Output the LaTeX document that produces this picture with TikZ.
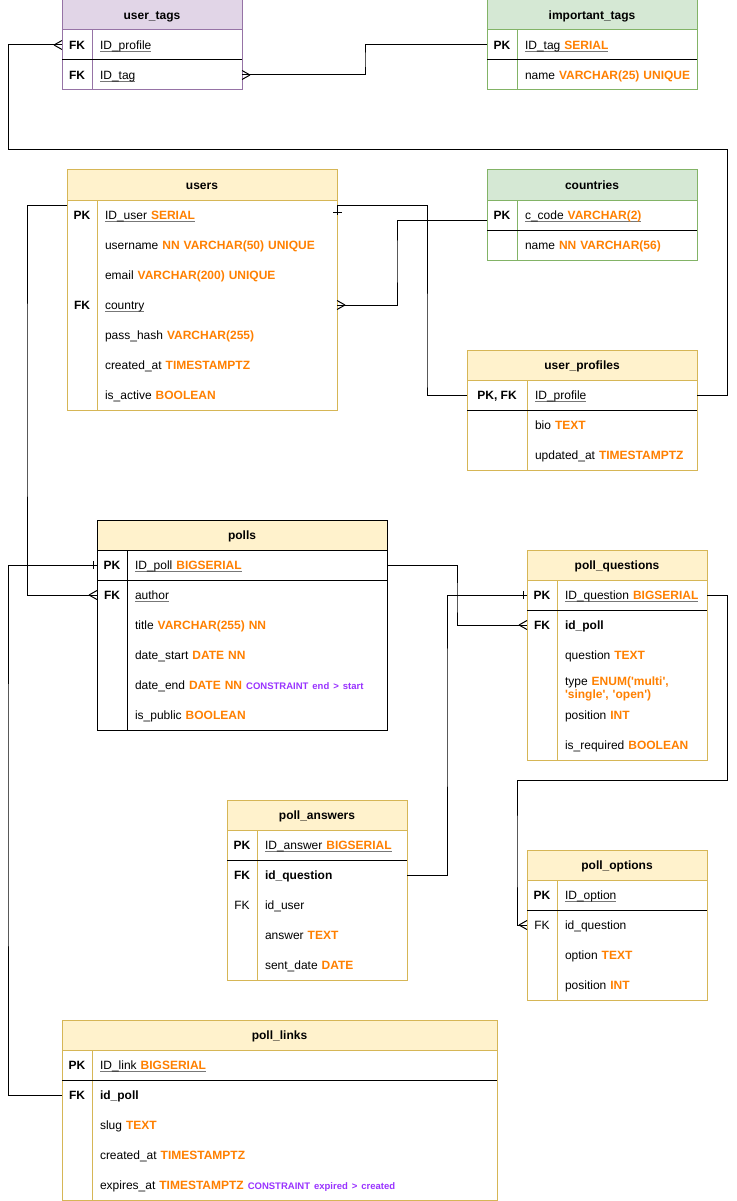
\documentclass[tikz,border=0pt,12pt]{standalone}
\usepackage{fontspec}
\setmainfont{Liberation Sans}

\definecolor{hdryellow}{HTML}{FFF2CC}
\definecolor{lineyellow}{HTML}{D6B656}
\definecolor{hdrgreen}{HTML}{D5E8D4}
\definecolor{linegreen}{HTML}{82B366}
\definecolor{hdrpurple}{HTML}{E1D5E7}
\definecolor{linepurple}{HTML}{9673A6}
\definecolor{typeorange}{HTML}{FF8000}
\definecolor{cstpurple}{HTML}{9933FF}
\definecolor{ulgray}{HTML}{777777}

% column types and constraints
\newcommand{\ty}[1]{\textcolor{typeorange}{\textbf{#1}}}
\newcommand{\cstr}[1]{{\fontsize{9.5}{10}\selectfont\textcolor{cstpurple}{\textbf{#1}}}}
% underlined key fields
\newcommand{\keyul}[1]{\leavevmode\setbox0=\hbox{#1}\rlap{\textcolor{ulgray}{\rule[-2.5pt]{\wd0}{1.4pt}}}\box0}
\newcommand{\sq}{\XeTeXglyph\XeTeXglyphindex "quotesingle" }

% one table: name, title, x, y, width, key width, colours, rows
\newcommand{\dbtable}[8]{%
  \pgfmathsetmacro{\fieldw}{#5-#6-16}
  \node[header, #7, minimum width=#5, anchor=north west] (#1) at (#3,#4) {#2};
  \foreach \key/\field [count=\i] in {#8} {
    \node[keycell, minimum width=#6, anchor=north west] (#1-k\i) at (#3,#4+30*\i) {\key};
    \node[fieldcell, text width=\fieldw pt, anchor=north west] (#1-\i) at (#3+#6,#4+30*\i) {\mbox{\field}};
    \xdef\lastrow{\i}
  }
  \draw[#7, fill=none] (#1.north west) rectangle (#1-\lastrow.south east);
  \draw[#7, fill=none] (#1-k1.north east) -- (#1-k\lastrow.south east);
}

\begin{document}
\begin{tikzpicture}[x=1pt, y=-1pt, line width=1pt,
  header/.style={minimum height=30pt, inner sep=0pt, outer sep=0pt, text height=9.4pt, text depth=0pt, font=\bfseries},
  keycell/.style={minimum height=30pt, inner sep=0pt, outer sep=0pt, text height=9.4pt, text depth=0pt},
  fieldcell/.style={minimum height=30pt, inner xsep=8pt, inner ysep=0pt, outer sep=0pt, text height=9.4pt, text depth=0pt, align=left},
  yellowtbl/.style={fill=hdryellow, draw=lineyellow},
  blacktbl/.style={fill=hdryellow, draw=black},
  greentbl/.style={fill=hdrgreen, draw=linegreen},
  purpletbl/.style={fill=hdrpurple, draw=linepurple},
  pksep/.style={draw=black},
  conn/.style={draw=black, line width=1pt}]

\fill[white] (0,0) rectangle (736,1201);
\useasboundingbox (0,0) rectangle (736,1201);

% Tables
\dbtable{ut}{user\_tags}{62}{0}{180}{30}{purpletbl}{
  {\textbf{FK}}/{\keyul{ID\_profile}},
  {\textbf{FK}}/{\keyul{ID\_tag}}}
\dbtable{it}{important\_tags}{487}{0}{210}{30}{greentbl}{
  {\textbf{PK}}/{\keyul{ID\_tag \ty{SERIAL}}},
  {}/{name \ty{VARCHAR(25) UNIQUE}}}
\dbtable{us}{users}{67}{170}{270}{30}{yellowtbl}{
  {\textbf{PK}}/{\keyul{ID\_user \ty{SERIAL}}},
  {}/{username \ty{NN VARCHAR(50) UNIQUE}},
  {}/{email \ty{VARCHAR(200) UNIQUE}},
  {\textbf{FK}}/{\keyul{country}},
  {}/{pass\_hash \ty{VARCHAR(255)}},
  {}/{created\_at \ty{TIMESTAMPTZ}},
  {}/{is\_active \ty{BOOLEAN}}}
\dbtable{ct}{countries}{487}{170}{210}{30}{greentbl}{
  {\textbf{PK}}/{\keyul{c\_code \ty{VARCHAR(2)}}},
  {}/{name \ty{NN VARCHAR(56)}}}
\dbtable{up}{user\_profiles}{467}{350}{230}{60}{yellowtbl}{
  {\textbf{PK, FK}}/{\keyul{ID\_profile}},
  {}/{bio \ty{TEXT}},
  {}/{updated\_at \ty{TIMESTAMPTZ}}}
\dbtable{po}{polls}{97}{520}{290}{30}{blacktbl}{
  {\textbf{PK}}/{\keyul{ID\_poll \ty{BIGSERIAL}}},
  {\textbf{FK}}/{\keyul{author}},
  {}/{title \ty{VARCHAR(255) NN}},
  {}/{date\_start \ty{DATE NN}},
  {}/{date\_end \ty{DATE NN} \cstr{CONSTRAINT end > start}},
  {}/{is\_public \ty{BOOLEAN}}}
\dbtable{pq}{poll\_questions}{527}{550}{180}{30}{yellowtbl}{
  {\textbf{PK}}/{\keyul{ID\_question \ty{BIGSERIAL}}},
  {\textbf{FK}}/{\textbf{id\_poll}},
  {}/{question \ty{TEXT}},
  {}/{\raisebox{4pt}{\begin{tabular}[t]{@{}l@{}}type \ty{ENUM(\sq multi\sq,}\\[-1.5pt]\ty{\sq single\sq, \sq open\sq)}\end{tabular}}},
  {}/{position \ty{INT}},
  {}/{is\_required \ty{BOOLEAN}}}
\dbtable{pa}{poll\_answers}{227}{800}{180}{30}{yellowtbl}{
  {\textbf{PK}}/{\keyul{ID\_answer \ty{BIGSERIAL}}},
  {\textbf{FK}}/{\textbf{id\_question}},
  {FK}/{id\_user},
  {}/{answer \ty{TEXT}},
  {}/{sent\_date \ty{DATE}}}
\dbtable{pop}{poll\_options}{527}{850}{180}{30}{yellowtbl}{
  {\textbf{PK}}/{\keyul{ID\_option}},
  {FK}/{id\_question},
  {}/{option \ty{TEXT}},
  {}/{position \ty{INT}}}
\dbtable{pl}{poll\_links}{62}{1020}{435}{30}{yellowtbl}{
  {\textbf{PK}}/{\keyul{ID\_link \ty{BIGSERIAL}}},
  {\textbf{FK}}/{\textbf{id\_poll}},
  {}/{slug \ty{TEXT}},
  {}/{created\_at \ty{TIMESTAMPTZ}},
  {}/{expires\_at \ty{TIMESTAMPTZ} \cstr{CONSTRAINT expired > created}}}

% Line under the primary keys
\foreach \tbl in {ut,it,ct,up,po,pq,pa,pop,pl}
  \draw[pksep] (\tbl-k1.south west) -- (\tbl-1.south east);

% Relations
\draw[conn] (ut-k1.west) -| (8,150) -- (727,150) |- (up-1.east);
\draw[conn] (ut-2.east) -| (365,60) |- (it-k1.west);
\draw[conn] (us-1.east) -- ++(0,-10) -| (427,380) |- (up-k1.west);
\draw[conn] ([yshift=10pt]us-k1.west) -| (27,400) |- (po-k2.west);
\draw[conn] ([yshift=-5pt]ct-k1.west) -| (397,260) |- (us-4.east);
\draw[conn] (po-k1.west) -| (8,800) |- (pl-k2.west);
\draw[conn] (po-1.east) -| (457,600) |- (pq-k2.west);
\draw[conn] (pq-k1.west) -| (447,700) |- (pa-2.east);
\draw[conn] (pq-1.east) -| (727,780) -| (517,850) |- (pop-k2.west);

% Crow's feet
\foreach \p in {ut-k1.west, po-k2.west, pq-k2.west, pop-k2.west}
  \draw[conn] ([xshift=-8pt]\p) -- ([yshift=4.5pt]\p) ([xshift=-8pt]\p) -- ([yshift=-4.5pt]\p);
\foreach \p in {ut-2.east, us-4.east}
  \draw[conn] ([xshift=8pt]\p) -- ([yshift=4.5pt]\p) ([xshift=8pt]\p) -- ([yshift=-4.5pt]\p);

% Single bars
\foreach \p in {po-k1.west, pq-k1.west}
  \draw[conn] ([xshift=-3.5pt,yshift=4pt]\p) -- ([xshift=-3.5pt,yshift=-4pt]\p);
\draw[conn] ([xshift=-4pt,yshift=3pt]us-1.east) -- ++(9,0);

\end{tikzpicture}
\end{document}
